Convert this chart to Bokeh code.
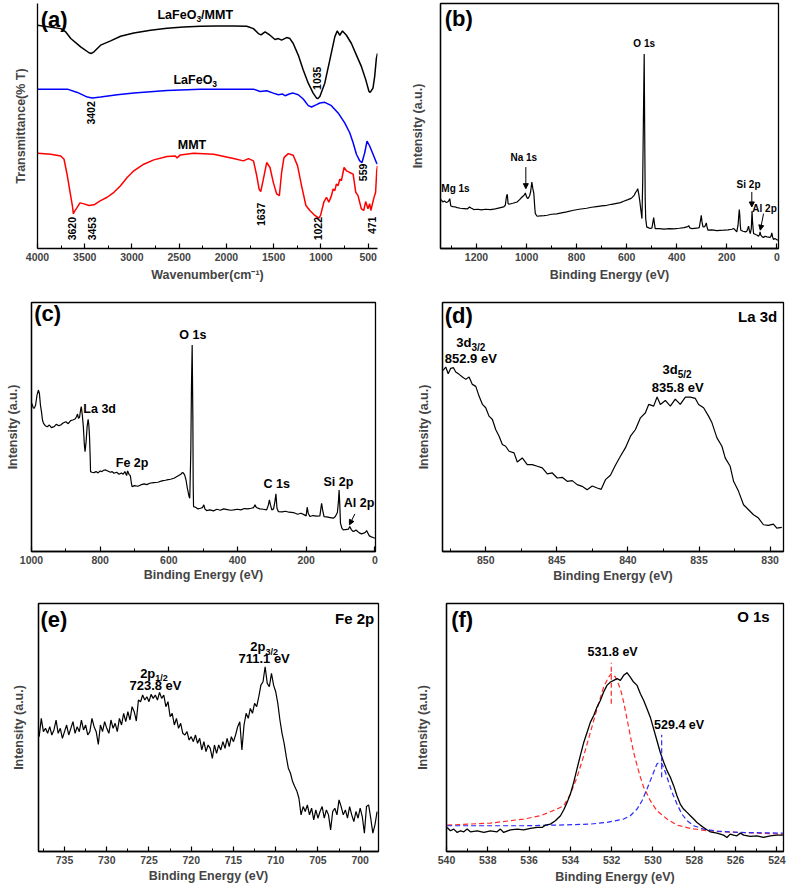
import numpy as np
from bokeh.plotting import figure
from bokeh.models import Range1d, FixedTicker, Arrow, NormalHead
from bokeh.layouts import column, row
from bokeh.core.properties import value
from bokeh.embed import file_html
from bokeh.resources import INLINE

FONT = "Liberation Sans"

# ---------------- (a) FTIR ----------------
wn_lafeo3_mmt = [4000, 3754, 3701, 3648, 3543, 3455, 3430, 3402, 3332, 3226, 3121, 2980, 2804, 2629, 2453, 2277, 2101, 1925,
                 1785, 1714, 1662, 1634, 1591, 1539, 1486, 1451, 1416, 1363, 1328, 1293,
                 1240, 1187, 1134, 1082, 1046, 1035, 1011, 959, 906, 853,
                 828, 800, 772, 730, 677, 624, 571, 525, 491, 478,
                 449, 431, 413, 401]
t_lafeo3_mmt = [675, 665, 655, 635, 610, 592, 590, 595, 615, 628, 642, 652, 660, 666, 670, 672, 673, 673,
                672, 665, 650, 646, 655, 645, 632, 635, 630, 638, 635, 620,
                585, 540, 500, 470, 455, 453, 460, 500, 570, 640,
                658, 645, 658, 645, 620, 585, 550, 510, 475, 472,
                485, 520, 575, 590]
wn_lafeo3 = [4000, 3684, 3578, 3473, 3420, 3332, 3156, 2980, 2629, 2277,
             1925, 1714, 1644, 1574, 1504, 1451, 1405, 1380, 1328, 1293,
             1240, 1187, 1134, 1099, 1046, 1011, 959, 889, 818, 748,
             695, 659, 624, 589, 565, 536, 512, 484, 448, 413, 401]
t_lafeo3 = [482, 482, 472, 458, 455, 458, 465, 470, 478, 482,
            482, 482, 475, 477, 470, 465, 467, 462, 468, 470,
            465, 452, 432, 428, 435, 440, 442, 432, 410, 380,
            350, 320, 285, 265, 260, 290, 325, 310, 285, 260, 255]
wn_mmt = [4000, 3859, 3754, 3719, 3684, 3655, 3631, 3620, 3613, 3585,
          3550, 3508, 3455, 3402, 3332, 3262, 3191, 3121, 3051, 2980,
          2875, 2769, 2629, 2541, 2523, 2488, 2347, 2136, 1925, 1820,
          1767, 1714, 1679, 1655, 1637, 1609, 1574, 1539, 1504, 1468,
          1440, 1416, 1391, 1345, 1293, 1247, 1205, 1159, 1117, 1064,
          1022, 1004, 969, 941, 916, 888, 871, 853, 836, 818,
          800, 783, 755, 730, 695, 659, 631, 607, 572, 547,
          526, 502, 484, 471, 442, 421, 409, 401]
t_mmt = [288, 285, 280, 270, 220, 170, 130, 105, 110, 122,
         138, 135, 130, 132, 145, 155, 170, 190, 215, 235,
         255, 268, 278, 280, 274, 283, 288, 285, 272, 265,
         272, 265, 220, 180, 172, 210, 260, 245, 200, 165,
         160, 230, 275, 287, 282, 250, 190, 130, 115, 100,
         92, 100, 140, 155, 140, 160, 180, 175, 195, 190,
         210, 205, 245, 235, 230, 225, 170, 160, 120, 115,
         142, 120, 135, 115, 150, 170, 235, 250]
ftir_peak_labels = ["3402", "1035", "559", "3620", "3453", "1637", "1022", "471"]
ftir_peak_x = [3437, 1046, 554, 3638, 3420, 1637, 1029, 456]
ftir_peak_y = [410, 515, 230, 60, 60, 103, 60, 70]

# ---------------- (b) survey MMT ----------------
be_b = [1341, 1335, 1328, 1320, 1312, 1307, 1303, 1295, 1285, 1277,
        1265, 1250, 1237, 1228, 1222, 1211, 1195, 1180, 1165, 1144,
        1125, 1104, 1092, 1085, 1080, 1077, 1074, 1070, 1055, 1038,
        1028, 1018, 1010, 1005, 1000, 995, 988, 984, 979, 975,
        971, 967, 965, 958, 945, 930, 918, 900, 880, 860,
        840, 812, 790, 760, 740, 720, 700, 679, 660, 640,
        625, 612, 595, 585, 579, 570, 565, 560, 556, 552,
        548, 544, 539, 536, 533, 530, 528, 526, 524, 520,
        512, 505, 499, 495, 492, 489, 486, 470, 450, 430,
        412, 390, 370, 356, 352, 348, 339, 320, 310, 305,
        302, 299, 295, 288, 284, 282, 279, 275, 260, 240,
        213, 195, 180, 173, 168, 160, 155, 152, 150, 148,
        146, 144, 135, 125, 120, 116, 113, 110, 106, 102,
        99, 97, 93, 85, 78, 73, 69, 67, 64, 58,
        53, 47, 40, 33, 27, 23, 20, 17, 13, 8,
        3, -4]
int_b = [147, 140, 143, 138, 142, 150, 128, 126, 125, 123,
         121, 120, 119, 125, 122, 117, 118, 116, 118, 117,
         119, 123, 125, 130, 158, 163, 135, 133, 136, 140,
         147, 155, 160, 167, 155, 150, 158, 170, 200, 180,
         165, 120, 105, 97, 98, 99, 100, 103, 104, 107,
         110, 115, 118, 121, 124, 126, 128, 130, 133, 136,
         138, 142, 147, 150, 153, 160, 168, 173, 180, 165,
         145, 120, 90, 200, 400, 585, 350, 150, 90, 65,
         62, 60, 62, 80, 93, 75, 60, 60, 58, 60,
         59, 61, 63, 66, 69, 62, 60, 61, 63, 85,
         100, 80, 65, 66, 72, 77, 65, 55, 56, 54,
         55, 56, 58, 60, 57, 50, 70, 100, 117, 100,
         70, 55, 52, 50, 52, 60, 67, 55, 45, 60,
         113, 80, 45, 42, 40, 37, 42, 50, 40, 35,
         33, 37, 35, 34, 33, 38, 47, 35, 27, 30,
         28, 25]

# ---------------- (c) survey LaFeO3/MMT ----------------
be_c = [999, 995, 992, 988, 984, 980, 977, 974, 971, 968,
        965, 960, 954, 948, 942, 934, 928, 920, 915, 908,
        900, 893, 886, 880, 873, 869, 866, 863, 860, 857,
        855, 852, 849, 846, 844, 841, 838, 835, 833, 831,
        829, 828, 824, 818, 812, 806, 800, 795, 790, 784,
        778, 770, 765, 760, 752, 745, 738, 733, 728, 723,
        720, 716, 712, 709, 707, 700, 690, 682, 672, 664,
        656, 644, 632, 620, 610, 602, 595, 585, 575, 565,
        561, 558, 554, 550, 546, 541, 539, 536, 534, 532,
        530, 529, 528, 522, 515, 508, 502, 498, 495, 490,
        480, 470, 460, 450, 440, 430, 420, 411, 400, 390,
        380, 370, 360, 353, 349, 345, 335, 325, 315, 310,
        307, 304, 300, 295, 291, 288, 285, 281, 270, 260,
        250, 237, 225, 215, 205, 200, 197, 194, 189, 180,
        170, 160, 155, 152, 148, 140, 130, 121, 115, 109,
        106, 104, 102, 100, 96, 92, 85, 77, 73, 68,
        63, 58, 55, 50, 45, 39, 32, 27, 24, 20,
        16, 10, 5, 0]
int_c = [445, 432, 430, 440, 470, 485, 475, 440, 420, 395,
         385, 378, 375, 380, 372, 375, 382, 378, 380, 386,
         390, 384, 393, 395, 398, 405, 413, 400, 404, 425,
         435, 410, 375, 320, 300, 330, 375, 397, 380, 345,
         280, 240, 238, 237, 240, 236, 242, 240, 244, 245,
         242, 238, 240, 235, 238, 232, 236, 232, 240, 228,
         242, 232, 227, 205, 195, 198, 196, 200, 203, 201,
         205, 207, 208, 212, 214, 216, 217, 220, 226, 232,
         237, 236, 230, 215, 190, 165, 160, 300, 500, 620,
         400, 200, 135, 133, 128, 130, 132, 140, 128, 123,
         125, 122, 127, 124, 128, 126, 124, 125, 127, 125,
         129, 128, 130, 132, 140, 132, 128, 127, 125, 140,
         155, 140, 125, 128, 150, 173, 130, 120, 119, 121,
         118, 117, 112, 115, 110, 107, 133, 115, 105, 108,
         106, 107, 145, 125, 105, 104, 102, 100, 105, 117,
         150, 185, 140, 85, 70, 65, 66, 67, 75, 65,
         60, 62, 65, 60, 56, 53, 55, 58, 63, 55,
         47, 44, 42, 40]

# ---------------- (d) La 3d ----------------
be_d = [852.99, 852.81, 852.64, 852.46, 852.27, 852.11, 851.87, 851.64, 851.40, 851.17,
        850.94, 850.70, 850.47, 850.23, 850.00, 849.77, 849.53, 849.30, 849.06, 848.83,
        848.60, 848.36, 848.01, 847.78, 847.43, 847.08, 846.73, 846.37, 846.02, 845.67,
        845.32, 844.97, 844.62, 844.27, 843.92, 843.57, 843.22, 842.87, 842.51, 842.16,
        841.88, 841.58, 841.23, 840.88, 840.53, 840.18, 839.82, 839.47, 839.12, 838.77,
        838.54, 838.19, 837.95, 837.72, 837.37, 837.02, 836.67, 836.32, 835.96, 835.61,
        835.26, 835.03, 834.68, 834.33, 834.09, 833.74, 833.39, 833.16, 832.81, 832.57,
        832.22, 831.87, 831.52, 831.17, 830.82, 830.47, 830.12, 829.77, 829.53, 829.18]
int_d = [542, 552, 532, 548, 550, 537, 530, 522, 515, 522,
         500, 494, 465, 440, 430, 405, 395, 365, 345, 320,
         315, 300, 295, 268, 280, 260, 260, 255, 250, 232,
         235, 220, 222, 210, 212, 200, 195, 185, 196, 190,
         186, 215, 228, 258, 285, 310, 345, 365, 400, 415,
         440, 435, 462, 440, 452, 435, 456, 440, 462, 462,
         458, 440, 430, 405, 385, 340, 315, 280, 255, 210,
         180, 140, 125, 110, 100, 80, 78, 82, 70, 72]

# ---------------- (e) Fe 2p ----------------
be_e = [738.0, 737.75, 737.5, 737.25, 737.0, 736.75, 736.5, 736.25, 736.0, 735.75, 735.5, 735.25,
        735.0, 734.75, 734.5, 734.25, 734.0, 733.75, 733.5, 733.25, 733.0, 732.75, 732.5, 732.25,
        732.0, 731.75, 731.5, 731.25, 731.0, 730.75, 730.5, 730.25, 730.0, 729.75, 729.5, 729.25,
        729.0, 728.75, 728.5, 728.25, 728.0, 727.75, 727.5, 727.25, 727.0, 726.75, 726.5, 726.25,
        726.0, 725.75, 725.5, 725.25, 725.0, 724.75, 724.5, 724.25, 724.0, 723.75, 723.5, 723.25,
        723.0, 722.75, 722.5, 722.25, 722.0, 721.75, 721.5, 721.25, 721.0, 720.75, 720.5, 720.25,
        720.0, 719.75, 719.5, 719.25, 719.0, 718.75, 718.5, 718.25, 718.0, 717.75, 717.5, 717.25,
        717.0, 716.75, 716.5, 716.25, 716.0, 715.75, 715.5, 715.25, 715.0, 714.75, 714.5, 714.25,
        714.0, 713.75, 713.5, 713.25, 713.0, 712.75, 712.5, 712.25, 712.0, 711.75, 711.5, 711.25,
        711.0, 710.75, 710.5, 710.25, 710.0, 709.75, 709.5, 709.25, 709.0, 708.75, 708.5, 708.25,
        708.0, 707.75, 707.5, 707.25, 707.0, 706.75, 706.5, 706.25, 706.0, 705.75, 705.5, 705.25,
        705.0, 704.75, 704.5, 704.25, 704.0, 703.75, 703.5, 703.25, 703.0, 702.75, 702.5, 702.25,
        702.0, 701.75, 701.5, 701.25, 701.0, 700.75, 700.5, 700.25, 700.0, 699.75, 699.5, 699.25,
        699.0, 698.75, 698.5, 698.25, 698.0]
int_e = [345, 400, 360, 370, 355, 375, 350, 365, 395, 355, 370, 340,
         360, 380, 350, 370, 390, 355, 375, 360, 395, 365, 380, 350,
         360, 400, 375, 360, 322, 380, 360, 390, 370, 355, 395, 370,
         385, 360, 400, 380, 415, 390, 420, 395, 435, 420, 392, 455,
         450, 470, 455, 465, 450, 472, 460, 470, 455, 478, 460, 470,
         435, 450, 405, 415, 380, 400, 370, 385, 355, 350, 360, 335,
         345, 330, 350, 325, 340, 305, 330, 300, 320, 310, 280, 320,
         295, 320, 305, 330, 310, 340, 315, 345, 330, 350, 375, 390,
         305, 380, 415, 400, 430, 415, 445, 435, 465, 500, 510, 555,
         505, 495, 535, 500, 480, 445, 395, 355, 325, 285, 250, 235,
         210, 195, 182, 160, 110, 135, 120, 140, 110, 130, 95, 125,
         100, 120, 135, 100, 125, 110, 65, 120, 130, 110, 155, 135,
         110, 125, 100, 135, 110, 90, 120, 100, 130, 105, 55, 135,
         140, 100, 55, 80, 120]

# ---------------- (f) O 1s ----------------
be_f = [539.97, 539.81, 539.65, 539.48, 539.32, 539.16, 539.00, 538.84, 538.52, 538.19,
        537.87, 537.55, 537.39, 537.23, 536.90, 536.58, 536.26, 535.94, 535.61, 535.37,
        535.21, 534.97, 534.73, 534.48, 534.32, 534.16, 534.00, 533.84, 533.68, 533.52,
        533.35, 533.19, 533.03, 532.87, 532.71, 532.55, 532.39, 532.23, 532.06, 531.90,
        531.74, 531.58, 531.42, 531.26, 531.10, 530.94, 530.77, 530.61, 530.45, 530.29,
        530.13, 529.97, 529.81, 529.65, 529.48, 529.32, 529.16, 529.00, 528.84, 528.68,
        528.52, 528.35, 528.19, 528.03, 527.87, 527.71, 527.55, 527.39, 527.23, 526.90,
        526.58, 526.42, 526.26, 526.10, 525.94, 525.77, 525.61, 525.29, 524.97, 524.65,
        524.32, 524.00, 523.71]
int_f = [72, 62, 67, 57, 62, 59, 67, 59, 62, 57,
         62, 59, 67, 57, 65, 67, 65, 69, 72, 72,
         79, 82, 92, 107, 125, 147, 172, 207, 247, 287,
         327, 357, 387, 407, 432, 452, 477, 497, 507, 512,
         517, 512, 527, 535, 522, 507, 497, 472, 452, 427,
         402, 367, 332, 297, 267, 242, 222, 197, 167, 142,
         127, 117, 107, 97, 87, 79, 72, 65, 59, 55,
         49, 42, 52, 49, 47, 55, 49, 45, 47, 42,
         47, 49, 49]
be_fit1 = [539.97, 537.87, 536.26, 535.45, 534.65, 534.32, 534.00, 533.68, 533.35, 533.03,
           532.71, 532.39, 532.15, 532.02, 531.82, 531.58, 531.42, 531.26, 531.10, 530.94,
           530.77, 530.61, 530.45, 530.13, 529.81, 529.32, 528.84, 528.19, 527.39, 526.58,
           524.97, 523.71]
int_fit1 = [79, 85, 97, 107, 127, 137, 172, 222, 287, 357,
            427, 492, 522, 532, 522, 487, 447, 397, 347, 297,
            257, 222, 192, 152, 122, 97, 79, 69, 62, 59,
            55, 52]
be_fit2 = [539.97, 536.26, 534.65, 533.03, 532.23, 531.42, 531.10, 530.77, 530.53, 530.29,
           530.13, 529.97, 529.81, 529.68, 529.56, 529.40, 529.24, 529.08, 528.84, 528.60,
           528.35, 528.03, 527.55, 526.90, 525.77, 523.71]
int_fit2 = [77, 77, 79, 82, 87, 97, 107, 127, 152, 187,
            212, 237, 262, 267, 262, 237, 207, 177, 142, 112,
            92, 77, 67, 61, 57, 55]
fit_peak_be = [532.02, 529.58]
fit_mark_bottom = [442, 222]
fit_mark_top = [565, 349]

# ---------------- helpers ----------------
CW = {'0': .556, '1': .556, '2': .556, '3': .556, '4': .556, '5': .556, '6': .556, '7': .556,
      '8': .556, '9': .556, '.': .278, ' ': .278, '/': .278, '(': .333, ')': .333,
      'L': .611, 'a': .556, 'F': .611, 'e': .556, 'O': .778, 'M': .833, 'T': .611,
      'd': .611, 'p': .611, 'V': .667, 'N': .722, 's': .556, 'g': .611}


def tw(s, size):
    return sum(CW.get(c, 0.6) for c in s) * size


def rich(p, x, y, parts, align="center", color="black"):
    total = sum(tw(t, s) for t, s, dy in parts)
    off = -total / 2 if align == "center" else (-total if align == "right" else 0)
    for t, s, dy in parts:
        p.text(x=[x], y=[y], text=[t], x_offset=off, y_offset=dy,
               text_font=value(FONT), text_font_size=value(f"{s}px"), text_font_style="bold",
               text_align="left", text_baseline="middle", text_color=color)
        off += tw(t, s)


def label(p, x, y, t, size, align="center", angle=0.0):
    p.text(x=[x], y=[y], text=[t], angle=angle, text_font=value(FONT),
           text_font_size=value(f"{size}px"), text_font_style="bold",
           text_align=align, text_baseline="middle", text_color="black")


def arrow(p, x0, y0, x1, y1):
    p.add_layout(Arrow(end=NormalHead(size=5, fill_color="black", line_color="black", line_width=1),
                       x_start=x0, y_start=y0, x_end=x1, y_end=y1, line_width=1, line_color="black"))


def panel(w, h, xr, yr, borders, majors, minors, xlabel, ylabel, xstand, ystand, outline=True):
    left, right, top, bottom = borders
    p = figure(width=w, height=h, x_range=Range1d(*xr), y_range=Range1d(*yr),
               output_backend="svg", toolbar_location=None, tools="",
               min_border_left=left, min_border_right=right,
               min_border_top=top, min_border_bottom=bottom)
    p.xgrid.visible = False
    p.ygrid.visible = False
    p.background_fill_color = "white"
    p.border_fill_color = "white"
    p.outline_line_color = "black" if outline else None
    p.outline_line_width = 1.3
    xa = p.xaxis[0]
    xa.ticker = FixedTicker(ticks=majors, minor_ticks=minors)
    xa.axis_line_width = 1.3
    xa.major_tick_in = 5
    xa.major_tick_out = 0
    xa.minor_tick_in = 3
    xa.minor_tick_out = 0
    xa.major_tick_line_width = 1.2
    xa.minor_tick_line_width = 1.0
    xa.major_label_text_font = FONT
    xa.major_label_text_font_size = "10.5px"
    xa.major_label_text_font_style = "bold"
    xa.major_label_standoff = 4
    xa.axis_label = xlabel
    xa.axis_label_text_font = FONT
    xa.axis_label_text_font_size = "12.5px"
    xa.axis_label_text_font_style = "bold"
    xa.axis_label_standoff = xstand
    ya = p.yaxis[0]
    ya.ticker = FixedTicker(ticks=[])
    ya.axis_line_width = 1.3
    ya.major_tick_line_color = None
    ya.minor_tick_line_color = None
    ya.major_label_text_font_size = "0px"
    ya.major_label_standoff = 0
    ya.axis_label = ylabel
    ya.axis_label_text_font = FONT
    ya.axis_label_text_font_size = "12.5px"
    ya.axis_label_text_font_style = "bold"
    ya.axis_label_standoff = ystand
    return p


BE = "Binding Energy (eV)"
INT = "Intensity (a.u.)"

# (a)
pa = panel(390, 290, (4000, 401), (0, 741), (37, 13, 3, 40),
           [4000, 3500, 3000, 2500, 2000, 1500, 1000, 500],
           [3750, 3250, 2750, 2250, 1750, 1250, 750],
           "Wavenumber(cm\u207b\u00b9)", "Transmittance(% T)", 4, 10, outline=False)
pa.line(wn_lafeo3_mmt, t_lafeo3_mmt, line_color="black", line_width=1.5)
pa.line(wn_lafeo3, t_lafeo3, line_color="#0000ff", line_width=1.5)
pa.line(wn_mmt, t_mmt, line_color="#ff0000", line_width=1.5)
label(pa, 3824, 692, "(a)", 22)
rich(pa, 2330, 705, [("LaFeO", 12.5, 0), ("3", 8.5, 4), ("/MMT", 12.5, 0)])
rich(pa, 2330, 510, [("LaFeO", 12.5, 0), ("3", 8.5, 4)])
label(pa, 2365, 313, "MMT", 12.5)
pa.text(x=ftir_peak_x, y=ftir_peak_y, text=ftir_peak_labels, angle=np.pi / 2,
        text_font=value(FONT), text_font_size=value("10.5px"), text_font_style="bold",
        text_align="center", text_baseline="middle", text_color="black")

# (b)
pb = panel(397, 290, (1344, -6.7), (0, 737), (50, 9, 3, 42),
           [1200, 1000, 800, 600, 400, 200, 0],
           [1300, 1100, 900, 700, 500, 300, 100],
           BE, INT, 4, 16)
pb.line(be_b, int_b, line_color="black", line_width=1.2)
label(pb, 1271, 692, "(b)", 22)
label(pb, 530, 617, "O 1s", 10)
label(pb, 1011, 275, "Na 1s", 10)
label(pb, 1284, 179, "Mg 1s", 10)
label(pb, 113, 193, "Si 2p", 10)
label(pb, 49, 120, "Al 2p", 10)
arrow(pb, 1003, 245, 1003, 180)
arrow(pb, 100, 170, 100, 125)
arrow(pb, 53, 105, 66, 55)

# (c)
pc = panel(390, 295, (1000, -2), (0, 748), (31, 15, 12, 33),
           [1000, 800, 600, 400, 200, 0],
           [900, 700, 500, 300, 100],
           BE, INT, 1, 12)
pc.line(be_c, int_c, line_color="black", line_width=1.2)
label(pc, 953, 716, "(c)", 22)
label(pc, 530, 650, "O 1s", 12.5)
label(pc, 849, 427, "La 3d", 12.5, align="left")
label(pc, 707, 267, "Fe 2p", 12.5)
label(pc, 286, 203, "C 1s", 12.5)
label(pc, 106, 210, "Si 2p", 12.5)
label(pc, 46, 147, "Al 2p", 12.5)
arrow(pc, 58, 113, 74, 80)

# (d)
pd_ = panel(397, 295, (853.04, 829.06), (0, 745), (52, 4, 12, 34),
            [850, 845, 840, 835, 830],
            [852.5, 847.5, 842.5, 837.5, 832.5],
            BE, INT, 2, 12)
pd_.line(be_d, int_d, line_color="black", line_width=1.2)
label(pd_, 851.9, 705, "(d)", 22)
label(pd_, 829.5, 704, "La 3d", 15, align="right")
rich(pd_, 851.05, 624, [("3d", 13, 0), ("3/2", 10, 5)])
label(pd_, 851.05, 577, "852.9 eV", 13)
rich(pd_, 836.55, 544, [("3d", 13, 0), ("5/2", 10, 5)])
label(pd_, 836.5, 492, "835.8 eV", 13)

# (e)
pe = panel(390, 302, (738.08, 697.83), (0, 745), (38, 12, 18, 35),
           [735, 730, 725, 720, 715, 710, 705, 700],
           [737.5, 732.5, 727.5, 722.5, 717.5, 712.5, 707.5, 702.5],
           BE, INT, 2, 13)
pe.line(be_e, int_e, line_color="black", line_width=1.2)
label(pe, 736.26, 698, "(e)", 22)
label(pe, 698.33, 700, "Fe 2p", 15, align="right")
rich(pe, 724.41, 535, [("2p", 13, 0), ("1/2", 9, 5)])
label(pe, 724.02, 500, "723.8  eV", 13)
rich(pe, 711.37, 615, [("2p", 13, 0), ("3/2", 9, 5)])
label(pe, 711.37, 580, "711.1 eV", 13)

# (f)
pf = panel(397, 302, (540, 523.68), (0, 742), (56, 4, 18, 36),
           [540, 538, 536, 534, 532, 530, 528, 526, 524],
           [539, 537, 535, 533, 531, 529, 527, 525],
           BE, INT, 3, 17)
pf.line(be_fit1, int_fit1, line_color="#ff2a2a", line_width=1.2, line_dash="5 3")
pf.line(be_fit2, int_fit2, line_color="#2a2aff", line_width=1.2, line_dash="5 3")
pf.line(be_f, int_f, line_color="black", line_width=1.3)
pf.segment(x0=fit_peak_be, y0=fit_mark_bottom, x1=fit_peak_be, y1=fit_mark_top,
           line_color=["#ff2a2a", "#2a2aff"], line_width=1.2, line_dash="5 3")
label(pf, 539.24, 695, "(f)", 22)
label(pf, 524.35, 702, "O 1s", 15, align="right")
label(pf, 531.87, 597, "531.8  eV", 12.5)
label(pf, 528.65, 379, "529.4  eV", 12.5)

layout = column(row(pa, pb), row(pc, pd_), row(pe, pf))
open("out.html", "w").write(file_html(layout, INLINE, title="LaFeO3/MMT characterization"))
